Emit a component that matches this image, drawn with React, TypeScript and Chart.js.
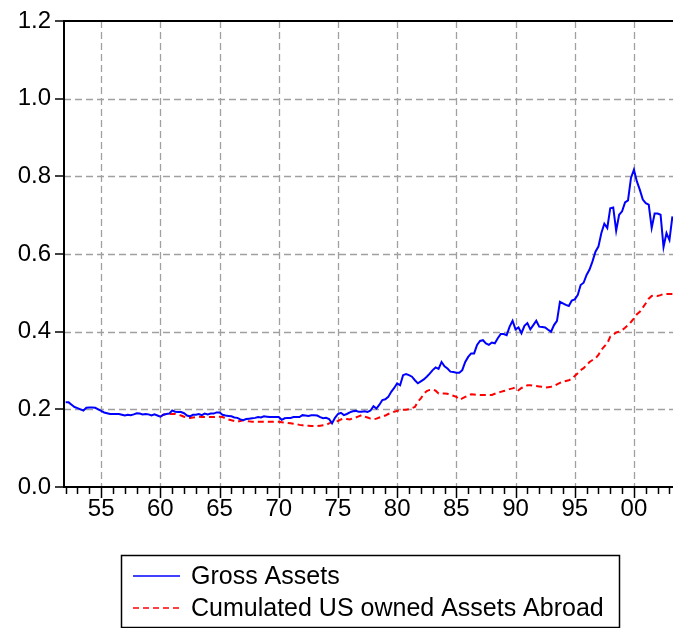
import React, { useEffect, useRef } from "react";
import { Chart, registerables } from "chart.js";

Chart.register(...registerables);

// Quarterly observations, 1952Q1 .. 2003Q2
const grossStartYear = 1952;
const grossAssets = [
  0.218, 0.218, 0.212, 0.206,
  0.203, 0.200, 0.197, 0.204,
  0.205, 0.205, 0.204, 0.200,
  0.196, 0.192, 0.190, 0.188,
  0.188, 0.188, 0.188, 0.186,
  0.184, 0.186, 0.185, 0.187,
  0.190, 0.189, 0.187, 0.188,
  0.187, 0.184, 0.187, 0.184,
  0.181, 0.186, 0.188, 0.189,
  0.197, 0.194, 0.193, 0.193,
  0.190, 0.184, 0.182, 0.186,
  0.186, 0.188, 0.185, 0.189,
  0.187, 0.189, 0.189, 0.192,
  0.192, 0.186, 0.184, 0.183,
  0.182, 0.179, 0.178, 0.174,
  0.172, 0.175, 0.176, 0.177,
  0.178, 0.180, 0.179, 0.182,
  0.181, 0.180, 0.180, 0.180,
  0.180, 0.173, 0.177, 0.178,
  0.178, 0.180, 0.180, 0.180,
  0.185, 0.184, 0.183, 0.185,
  0.185, 0.184, 0.180, 0.177,
  0.178, 0.175, 0.164, 0.178,
  0.188, 0.191, 0.185, 0.188,
  0.192, 0.195, 0.196, 0.194,
  0.194, 0.195, 0.193, 0.197,
  0.208, 0.202, 0.212, 0.224,
  0.226, 0.232, 0.245, 0.255,
  0.267, 0.262, 0.288, 0.291,
  0.288, 0.284, 0.275, 0.267,
  0.272, 0.277, 0.284, 0.292,
  0.301, 0.308, 0.304, 0.322,
  0.311, 0.305, 0.297, 0.296,
  0.294, 0.294, 0.301, 0.322,
  0.335, 0.344, 0.344, 0.366,
  0.376, 0.378, 0.370, 0.366,
  0.372, 0.370, 0.383, 0.394,
  0.394, 0.391, 0.413, 0.428,
  0.406, 0.411, 0.396, 0.415,
  0.422, 0.406, 0.417, 0.428,
  0.413, 0.412, 0.411, 0.405,
  0.400, 0.417, 0.428, 0.477,
  0.473, 0.469, 0.466, 0.480,
  0.483, 0.494, 0.520, 0.526,
  0.546, 0.560, 0.581, 0.606,
  0.619, 0.654, 0.678, 0.667,
  0.718, 0.720, 0.660, 0.701,
  0.710, 0.733, 0.738, 0.796,
  0.817, 0.787, 0.765, 0.740,
  0.731, 0.727, 0.667, 0.704,
  0.704, 0.701, 0.618, 0.654,
  0.636, 0.697,
];

// Quarterly observations, 1960Q1 .. 2003Q2
const cumulatedStartYear = 1960;
const cumulatedAssets = [
  0.181, 0.186, 0.188, 0.188,
  0.188, 0.188, 0.186, 0.184,
  0.181, 0.178, 0.178, 0.179,
  0.180, 0.181, 0.180, 0.180,
  0.180, 0.180, 0.180, 0.181,
  0.181, 0.180, 0.177, 0.174,
  0.172, 0.170, 0.168, 0.170,
  0.172, 0.170, 0.169, 0.168,
  0.168, 0.168, 0.168, 0.168,
  0.168, 0.168, 0.168, 0.168,
  0.168, 0.167, 0.166, 0.165,
  0.164, 0.163, 0.162, 0.160,
  0.159, 0.158, 0.158, 0.157,
  0.157, 0.157, 0.158, 0.159,
  0.160, 0.164, 0.167, 0.168,
  0.170, 0.174, 0.176, 0.175,
  0.174, 0.177, 0.179, 0.182,
  0.185, 0.181, 0.179, 0.176,
  0.174, 0.176, 0.179, 0.181,
  0.184, 0.188, 0.191, 0.194,
  0.196, 0.198, 0.199, 0.199,
  0.200, 0.203, 0.206, 0.220,
  0.228, 0.240, 0.247, 0.250,
  0.251, 0.248, 0.241, 0.241,
  0.241, 0.240, 0.237, 0.235,
  0.232, 0.225, 0.228, 0.232,
  0.235, 0.239, 0.238, 0.237,
  0.237, 0.237, 0.237, 0.237,
  0.237, 0.240, 0.243, 0.245,
  0.247, 0.249, 0.252, 0.254,
  0.256, 0.249, 0.255, 0.258,
  0.262, 0.262, 0.261, 0.260,
  0.259, 0.258, 0.256, 0.257,
  0.258, 0.260, 0.264, 0.268,
  0.271, 0.273, 0.275, 0.278,
  0.286, 0.293, 0.301, 0.306,
  0.314, 0.322, 0.327, 0.331,
  0.340, 0.353, 0.362, 0.370,
  0.387, 0.392, 0.398, 0.400,
  0.404, 0.410, 0.417, 0.425,
  0.434, 0.445, 0.451, 0.462,
  0.473, 0.485, 0.492, 0.494,
  0.492, 0.494, 0.497, 0.497,
  0.497, 0.497,
];

const seriesLabels = ["Gross Assets", "Cumulated US owned Assets Abroad"];
const seriesColors = ["#0000ff", "#ff0000"];
const xLabelYears = [1955, 1960, 1965, 1970, 1975, 1980, 1985, 1990, 1995, 2000];
const xMinorFirstYear = 1952;
const xMinorLastYear = 2003;
const yTickValues = [0, 0.2, 0.4, 0.6, 0.8, 1.0, 1.2];

const FONT = "'Liberation Sans', Arial, Helvetica, sans-serif";

function toPoints(start: number, values: number[]) {
  return values.map((v, i) => ({ x: start + i / 4, y: v }));
}

const framePlugin = {
  id: "eviewsFrame",
  beforeDatasetsDraw(chart: any) {
    const { ctx, chartArea: a, scales } = chart;
    const x = scales.x;
    const y = scales.y;
    ctx.save();
    ctx.strokeStyle = "#a0a0a0";
    ctx.lineWidth = 1.3;
    ctx.setLineDash([7, 4]);
    xLabelYears.forEach((yr) => {
      const px = Math.round(x.getPixelForValue(yr)) + 0.5;
      ctx.beginPath();
      ctx.moveTo(px, a.top);
      ctx.lineTo(px, a.bottom);
      ctx.stroke();
    });
    yTickValues.forEach((v) => {
      if (v <= 0 || v >= 1.2) return;
      const py = Math.round(y.getPixelForValue(v)) + 0.5;
      ctx.beginPath();
      ctx.moveTo(a.left, py);
      ctx.lineTo(a.right, py);
      ctx.stroke();
    });
    ctx.restore();
  },
  afterDatasetsDraw(chart: any) {
    const { ctx, chartArea: a, scales } = chart;
    const x = scales.x;
    const y = scales.y;
    ctx.save();
    ctx.setLineDash([]);
    ctx.strokeStyle = "#000";
    ctx.lineWidth = 2;
    ctx.beginPath();
    ctx.moveTo(a.right + 2, a.top);
    ctx.lineTo(a.left, a.top);
    ctx.lineTo(a.left, a.bottom);
    ctx.lineTo(a.right + 2, a.bottom);
    ctx.stroke();
    ctx.lineWidth = 1.5;
    yTickValues.forEach((v) => {
      const py = Math.round(y.getPixelForValue(v));
      ctx.beginPath();
      ctx.moveTo(a.left - 9, py);
      ctx.lineTo(a.left, py);
      ctx.stroke();
    });
    for (let yr = xMinorFirstYear; yr <= xMinorLastYear; yr++) {
      const px = Math.round(x.getPixelForValue(yr)) + 0.5;
      const len = yr % 5 === 0 ? 11 : 7;
      ctx.beginPath();
      ctx.moveTo(px, a.bottom);
      ctx.lineTo(px, a.bottom + len);
      ctx.stroke();
    }
    ctx.restore();
  },
  afterDraw(chart: any) {
    const { ctx } = chart;
    const box = { left: 121, top: 555, width: 498, height: 72 };
    ctx.save();
    ctx.fillStyle = "#ffffff";
    ctx.fillRect(box.left, box.top, box.width, box.height);
    ctx.strokeStyle = "#000";
    ctx.lineWidth = 1.5;
    ctx.strokeRect(box.left + 0.5, box.top + 0.5, box.width, box.height);
    ctx.font = `25px ${FONT}`;
    ctx.textBaseline = "middle";
    ctx.textAlign = "left";
    const rowY = [576, 608];
    chart.data.datasets.forEach((ds: any, i: number) => {
      const ry = rowY[i];
      ctx.strokeStyle = ds.borderColor;
      ctx.lineWidth = 1.3;
      ctx.setLineDash(ds.borderDash || []);
      ctx.beginPath();
      ctx.moveTo(133, ry);
      ctx.lineTo(180, ry);
      ctx.stroke();
      ctx.setLineDash([]);
      ctx.fillStyle = "#000";
      ctx.fillText(ds.label, 191, ry + 1);
    });
    ctx.restore();
  },
};

export default function App() {
  const canvasRef = useRef<HTMLCanvasElement | null>(null);

  useEffect(() => {
    const canvas = canvasRef.current;
    if (!canvas) return;
    const chart = new Chart(canvas, {
      type: "line",
      data: {
        datasets: [
          {
            label: seriesLabels[0],
            data: toPoints(grossStartYear, grossAssets),
            borderColor: seriesColors[0],
            backgroundColor: seriesColors[0],
            borderWidth: 2,
            pointRadius: 0,
            tension: 0,
            fill: false,
          },
          {
            label: seriesLabels[1],
            data: toPoints(cumulatedStartYear, cumulatedAssets),
            borderColor: seriesColors[1],
            backgroundColor: seriesColors[1],
            borderWidth: 2,
            borderDash: [6, 4],
            pointRadius: 0,
            tension: 0,
            fill: false,
          },
        ],
      },
      options: {
        responsive: false,
        animation: false,
        devicePixelRatio: 1,
        layout: { padding: { top: 21, left: 0, right: 0, bottom: 0 } },
        plugins: {
          legend: { display: false },
          tooltip: { enabled: false },
        },
        scales: {
          x: {
            type: "linear",
            min: 1951.86,
            max: 2003.3,
            grid: { display: false, drawTicks: false },
            border: { display: false },
            afterBuildTicks: (scale: any) => {
              scale.ticks = xLabelYears.map((v) => ({ value: v }));
            },
            afterFit: (scale: any) => {
              scale.height = 628 - 487;
              scale.paddingLeft = 0;
              scale.paddingRight = 0;
            },
            ticks: {
              autoSkip: false,
              maxRotation: 0,
              padding: 8,
              color: "#000",
              font: { family: FONT, size: 24 },
              callback: (v: any) => String(Number(v) % 100).padStart(2, "0"),
            },
          },
          y: {
            min: 0,
            max: 1.2,
            grid: { display: false, drawTicks: false },
            border: { display: false },
            afterBuildTicks: (scale: any) => {
              scale.ticks = yTickValues.map((v) => ({ value: v }));
            },
            afterFit: (scale: any) => {
              scale.width = 64;
              scale.paddingTop = 0;
              scale.paddingBottom = 0;
            },
            ticks: {
              padding: 13,
              color: "#000",
              font: { family: FONT, size: 24 },
              callback: (v: any) => Number(v).toFixed(1),
            },
          },
        },
      },
      plugins: [framePlugin],
    });
    return () => chart.destroy();
  }, []);

  return (
    <div style={{ position: "absolute", left: 0, top: 0, width: 673, height: 628, background: "#fff" }}>
      <canvas ref={canvasRef} width={673} height={628} style={{ display: "block" }} />
    </div>
  );
}
